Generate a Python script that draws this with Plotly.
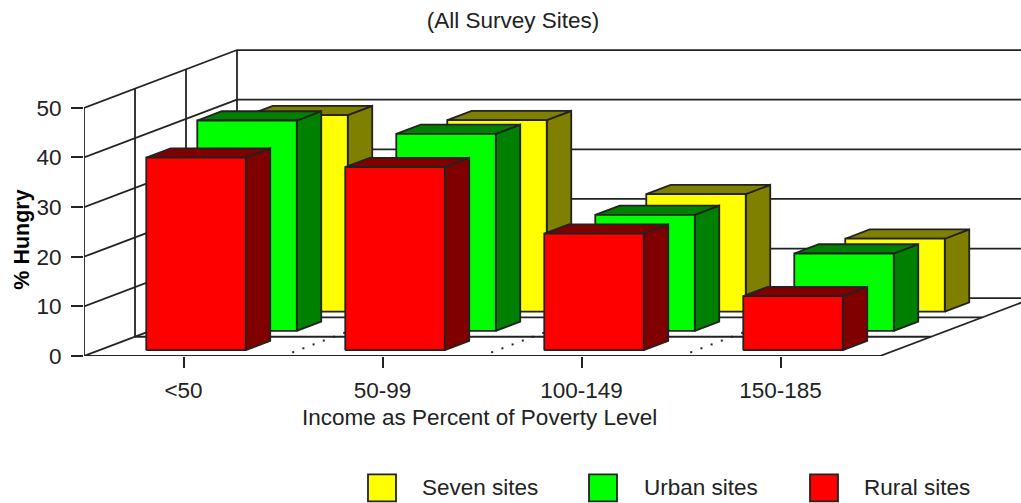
import plotly.graph_objects as go

categories = ["<50", "50-99", "100-149", "150-185"]
seven_sites = [39.6, 38.6, 23.7, 14.7]
urban_sites = [42.4, 39.7, 23.4, 15.6]
rural_sites = [38.8, 36.9, 23.5, 10.9]
y_ticks = [0, 10, 20, 30, 40, 50]

INK = "#222222"
FONT = "Liberation Sans"
LW = 1.8

# oblique projection of the box: one depth layer moves right and up
DX, DY = 51 / 199, 19.3 / 4.97
LEFT, BAR_W = 0.236, 0.5
DEPTH = 0.48
X_MAX, Y_MAX = 937 / 199, 356.5 / 4.97


def pr(u, d, v):
    return u + d * DX, v + d * DY


def add_poly(fig, polys, fill):
    xs, ys = [], []
    for poly in polys:
        for p in poly:
            x, y = pr(*p)
            xs.append(x)
            ys.append(y)
        xs.append(None)
        ys.append(None)
    fig.add_trace(go.Scatter(x=xs, y=ys, mode="lines", fill="toself", fillcolor=fill,
                             line=dict(color=INK, width=LW), cliponaxis=False,
                             hoverinfo="skip", showlegend=False))


def add_line(fig, a, b):
    x0, y0 = pr(*a)
    x1, y1 = pr(*b)
    fig.add_trace(go.Scatter(x=[x0, x1], y=[y0, y1], mode="lines",
                             line=dict(color=INK, width=LW), cliponaxis=False,
                             hoverinfo="skip", showlegend=False))


fig = go.Figure()

# walls and floor
add_line(fig, (0, 0, 0), (4, 0, 0))
add_line(fig, (0, 0, 0), (0, 0, 50))
for v in y_ticks:
    add_line(fig, (0, 0, v), (0, 3, v))
    add_line(fig, (0, 3, v), (4, 3, v))
for d in (1, 2, 3):
    add_line(fig, (0, d, 0), (0, d, 50))
for d in (1, 2):
    add_line(fig, (0, d, 0), (4, d, 0))
add_line(fig, (4, 0, 0), (4, 3, 0))

# dotted separators on the floor
dx, dy = [], []
for u in (1, 2, 3):
    for i in range(1, 15):
        x, y = pr(u, i * 0.2, 0)
        dx.append(x)
        dy.append(y)
fig.add_trace(go.Scatter(x=dx, y=dy, mode="markers", marker=dict(color=INK, size=2, symbol="square"),
                         cliponaxis=False, hoverinfo="skip", showlegend=False))

series = [
    ("Seven sites", seven_sites, 2.3, "#ffff00", "#808000"),
    ("Urban sites", urban_sites, 1.3, "#00ff00", "#008000"),
    ("Rural sites", rural_sites, 0.3, "#ff0000", "#800000"),
]
for name, vals, d0, front, dark in series:
    fronts, tops, sides = [], [], []
    d1 = d0 + DEPTH
    for i, v in enumerate(vals):
        a, b = i + LEFT, i + LEFT + BAR_W
        fronts.append([(a, d0, 0), (b, d0, 0), (b, d0, v), (a, d0, v), (a, d0, 0)])
        tops.append([(a, d0, v), (b, d0, v), (b, d1, v), (a, d1, v), (a, d0, v)])
        sides.append([(b, d0, 0), (b, d1, 0), (b, d1, v), (b, d0, v), (b, d0, 0)])
    add_poly(fig, sides, dark)
    add_poly(fig, tops, dark)
    add_poly(fig, fronts, front)

font = dict(family=FONT, size=22.5, color=INK)
fig.update_layout(
    width=1021, height=503,
    margin=dict(l=84, r=0, t=0, b=146.5),
    paper_bgcolor="white", plot_bgcolor="rgba(0,0,0,0)",
    showlegend=False, font=font,
    title=dict(text="(All Survey Sites)", x=513 / 1021, xanchor="center",
               y=1 - 20 / 503, yanchor="middle", font=font),
    xaxis=dict(range=[0, X_MAX], tickmode="array", tickvals=[0.5, 1.5, 2.5, 3.5], ticktext=categories,
               showgrid=False, zeroline=False, showline=False,
               ticks="outside", ticklen=11, tickwidth=LW, tickcolor=INK, ticklabelstandoff=3),
    yaxis=dict(range=[0, Y_MAX], tickmode="array", tickvals=y_ticks,
               showgrid=False, zeroline=False, showline=False,
               ticks="outside", ticklen=12, tickwidth=LW, tickcolor=INK, ticklabelstandoff=5),
)


def px(x):
    return (x - 84) / 937


def py(y):
    return (356.5 - y) / 356.5


fig.add_annotation(xref="paper", yref="paper", x=px(479), y=py(418), text="Income as Percent of Poverty Level",
                   showarrow=False, xanchor="center", yanchor="middle", font=font)
fig.add_annotation(xref="paper", yref="paper", x=px(22), y=py(240), text="<b>% Hungry</b>", textangle=-90,
                   showarrow=False, xanchor="center", yanchor="middle",
                   font=dict(family=FONT, size=21.5, color="#000000"))

legend = [("Seven sites", "#ffff00", 368, 422), ("Urban sites", "#00ff00", 589, 644), ("Rural sites", "#ff0000", 810, 864)]
for name, color, sx, tx in legend:
    fig.add_shape(type="rect", xref="paper", yref="paper", x0=px(sx), x1=px(sx + 28), y0=py(502), y1=py(475),
                  fillcolor=color, line=dict(color=INK, width=LW))
    fig.add_annotation(xref="paper", yref="paper", x=px(tx), y=py(488), text=name, showarrow=False,
                       xanchor="left", yanchor="middle", font=font, xshift=-2)

fig.write_html("out.html", config=dict(displayModeBar=False), post_script="document.body.style.margin='0';")
